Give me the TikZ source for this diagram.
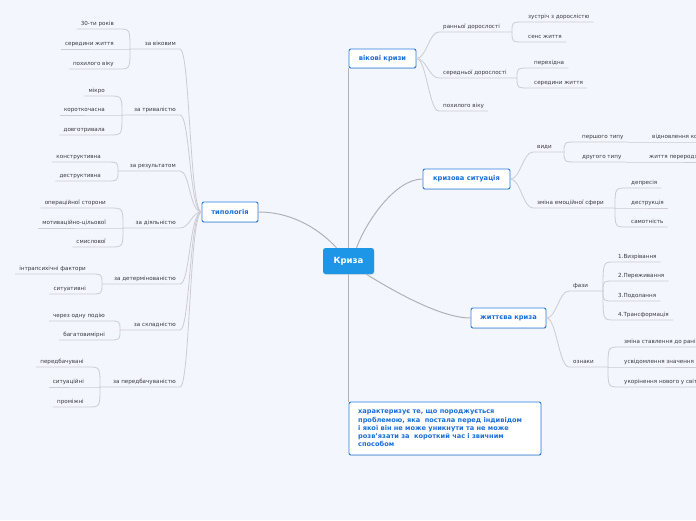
\documentclass[tikz,border=0pt]{standalone}
\usepackage{fontspec}
\setmainfont{DejaVu Sans}
\usetikzlibrary{shadows}
\definecolor{bgc}{RGB}{243,246,253}
\definecolor{blu}{RGB}{26,110,215}
\definecolor{bord}{RGB}{40,125,225}
\definecolor{krc}{RGB}{30,150,232}
\definecolor{mainln}{RGB}{178,178,182}
\definecolor{subln}{RGB}{204,204,210}
\definecolor{txc}{RGB}{58,58,62}
\newcommand\lleaf[4]{\node[lnode] (#1) at (#2) {#4}; \draw[subline] (#1.south west) -- (#1.south east) .. controls (#1.south east -| #3) .. (#3);}
\newcommand\rleaf[4]{\node[rnode] (#1) at (#2) {#4}; \draw[subline] (#3) .. controls (#3 |- #1.south west) .. (#1.south west) -- (#1.south east);}
\begin{document}
\begin{tikzpicture}[x=1pt,y=-1pt,
  leafbase/.style={font=\fontsize{5.6}{6.5}\selectfont, text=txc, inner xsep=4pt, inner ysep=2pt, text height=4.2pt, text depth=1.5pt},
  lnode/.style={leafbase, anchor=south east},
  rnode/.style={leafbase, anchor=south west},
  box/.style={draw=bord, fill=white, line width=0.9pt, rounded corners=2pt, text=blu, font=\fontsize{6.7}{8}\selectfont\bfseries, inner sep=0pt, drop shadow={opacity=0.22, shadow xshift=0.3pt, shadow yshift=-0.9pt}},
  rootbox/.style={fill=krc, rounded corners=2.5pt, text=white, font=\fontsize{8.5}{10}\selectfont\bfseries, inner sep=0pt, minimum width=51pt, minimum height=26pt, drop shadow={opacity=0.18, shadow xshift=0.3pt, shadow yshift=-0.9pt}},
  deftext/.style={text=blu, font=\fontsize{6.6}{8.1}\selectfont\bfseries, align=left, inner sep=0pt},
  subline/.style={draw=subln, line width=0.8pt},
  mainline/.style={draw=mainln, line width=1pt}]
\useasboundingbox (0,0) rectangle (696,520);
\fill[bgc] (0,0) rectangle (696,520);
\clip (0,0) rectangle (696,520);

% main nodes
\node[rootbox] (kryza) at (348.5,261) {Криза};
\node[box, minimum width=56pt, minimum height=20pt] (typ) at (230,212) {типологія};
\node[box, minimum width=67pt, minimum height=19pt] (vik) at (382.5,58.5) {вікові кризи};
\node[box, minimum width=87pt, minimum height=20pt] (ks) at (466.5,179) {кризова ситуація};
\node[box, minimum width=75pt, minimum height=20pt] (zk) at (508.5,318) {життєва криза};
\node[box, minimum width=192pt, minimum height=53pt] (def) at (445,428.5) {};
\node[deftext, anchor=north west] (deft) at (358,410) {характеризує те, що породжується\\проблемою, яка\ \ постала перед індивідом\\і якої він не може уникнути та не може\\розв’язати за\ \ короткий час і звичним\\способом};

% main connectors
\draw[mainline] (typ.east) .. controls (295,212) and (322,232) .. ([xshift=-12pt]kryza.north);
\draw[mainline] (kryza.north) -- (kryza.north |- vik.south);
\draw[mainline] (kryza.south) -- (kryza.south |- def.north);
\draw[mainline] ([xshift=8pt]kryza.north) .. controls (366,222) and (395,179) .. (ks.west);
\draw[mainline] ([xshift=-8pt]kryza.south east) .. controls (392,290) and (440,318) .. (zk.west);

% ---- typology (left) ----
\coordinate (j1) at (130,49);
\node[lnode] (c1) at (180,49) {за віковим};
\draw[subline] (j1) -- (c1.south east) .. controls +(10,0) and +(-12,0) .. (typ.west);
\lleaf{a1}{118,29}{j1}{30-ти років}
\lleaf{a2}{118,49}{j1}{середини життя}
\lleaf{a3}{118,69}{j1}{похилого віку}

\coordinate (j2) at (122,115);
\node[lnode] (c2) at (180,115) {за тривалістю};
\draw[subline] (j2) -- (c2.south east) .. controls +(10,0) and +(-12,0) .. (typ.west);
\lleaf{a4}{109,96}{j2}{мікро}
\lleaf{a5}{109,115}{j2}{короткочасна}
\lleaf{a6}{109,135}{j2}{довготривала}

\coordinate (j3) at (118,171);
\node[lnode] (c3) at (180,171) {за результатом};
\draw[subline] (j3) -- (c3.south east) .. controls +(10,0) and +(-12,0) .. (typ.west);
\lleaf{a7}{105,162}{j3}{конструктивна}
\lleaf{a8}{105,181}{j3}{деструктивна}

\coordinate (j4) at (123,228);
\node[lnode] (c4) at (180,228) {за діяльністю};
\draw[subline] (j4) -- (c4.south east) .. controls +(10,0) and +(-10,0) .. (typ.west);
\lleaf{a9}{110,208}{j4}{операційної сторони}
\lleaf{a10}{110,228}{j4}{мотиваційно-цільової}
\lleaf{a11}{110,247}{j4}{смислової}

\coordinate (j5) at (102,284);
\node[lnode] (c5) at (180,284) {за детермінованістю};
\draw[subline] (j5) -- (c5.south east) .. controls +(10,0) and +(-12,0) .. (typ.west);
\lleaf{a12}{90,274}{j5}{інтрапсихічні фактори}
\lleaf{a13}{90,294}{j5}{ситуативні}

\coordinate (j6) at (120,330);
\node[lnode] (c6) at (180,330) {за складністю};
\draw[subline] (j6) -- (c6.south east) .. controls +(10,0) and +(-12,0) .. (typ.west);
\lleaf{a14}{109,321}{j6}{через одну подію}
\lleaf{a15}{109,340}{j6}{багатовимірні}

\coordinate (j7) at (100,387);
\node[lnode] (c7) at (180,387) {за передбачуваністю};
\draw[subline] (j7) -- (c7.south east) .. controls +(10,0) and +(-12,0) .. (typ.west);
\lleaf{a16}{88,367}{j7}{передбачувані}
\lleaf{a17}{88,387}{j7}{ситуаційні}
\lleaf{a18}{88,407}{j7}{проміжні}

% ---- вікові кризи ----
\node[rnode] (p1) at (439,32) {ранньої дорослості};
\coordinate (ja) at (512,32);
\draw[subline] (vik.east) .. controls +(10,0) and +(-10,0) .. (p1.south west) -- (ja);
\rleaf{b1}{524,22}{ja}{зустріч з дорослістю}
\rleaf{b2}{524,42}{ja}{сенс життя}

\node[rnode] (p2) at (439,78) {середньої дорослості};
\coordinate (jb) at (517,78);
\draw[subline] (vik.east) .. controls +(10,0) and +(-10,0) .. (p2.south west) -- (jb);
\rleaf{b3}{530,68}{jb}{перехідна}
\rleaf{b4}{530,88}{jb}{середини життя}

\node[rnode] (p3) at (439,111) {похилого віку};
\draw[subline] (vik.east) .. controls +(10,0) and +(-10,0) .. (p3.south west) -- (p3.south east);

% ---- кризова ситуація ----
\node[rnode] (p4) at (533,152) {види};
\coordinate (jc) at (564,152);
\draw[subline] (ks.east) .. controls +(10,0) and +(-10,0) .. (p4.south west) -- (jc);
\rleaf{d1}{578,142}{jc}{першого типу}
\rleaf{d2}{578,162}{jc}{другого типу}
\node[rnode] (g1) at (648,142) {відновлення колишнього стану};
\node[rnode] (g2) at (645,162) {життя перероджується};
\draw[subline] (d1.south east) -- (g1.south west) -- (g1.south east);
\draw[subline] (d2.south east) -- (g2.south west) -- (g2.south east);

\node[rnode] (p5) at (533,208) {зміна емоційної сфери};
\coordinate (jd) at (615,208);
\draw[subline] (ks.east) .. controls +(10,0) and +(-10,0) .. (p5.south west) -- (jd);
\rleaf{e1}{627,188}{jd}{депресія}
\rleaf{e2}{627,208}{jd}{деструкція}
\rleaf{e3}{627,227}{jd}{самотність}

% ---- життєва криза ----
\node[rnode] (p6) at (569,291) {фази};
\coordinate (je) at (603,291);
\draw[subline] (zk.east) .. controls +(10,0) and +(-10,0) .. (p6.south west) -- (je);
\rleaf{f1}{614,262}{je}{1.Визрівання}
\rleaf{f2}{614,281}{je}{2.Переживання}
\rleaf{f3}{614,301}{je}{3.Подолання}
\rleaf{f4}{614,320}{je}{4.Трансформація}

\node[rnode] (p7) at (569,367) {ознаки};
\coordinate (jf) at (608,367);
\draw[subline] (zk.east) .. controls +(10,0) and +(-10,0) .. (p7.south west) -- (jf);
\rleaf{h1}{620,347}{jf}{зміна ставлення до раніше значущого}
\rleaf{h2}{620,367}{jf}{усвідомлення значення змін}
\rleaf{h3}{620,387}{jf}{укорінення нового у світогляді}
\end{tikzpicture}
\end{document}
